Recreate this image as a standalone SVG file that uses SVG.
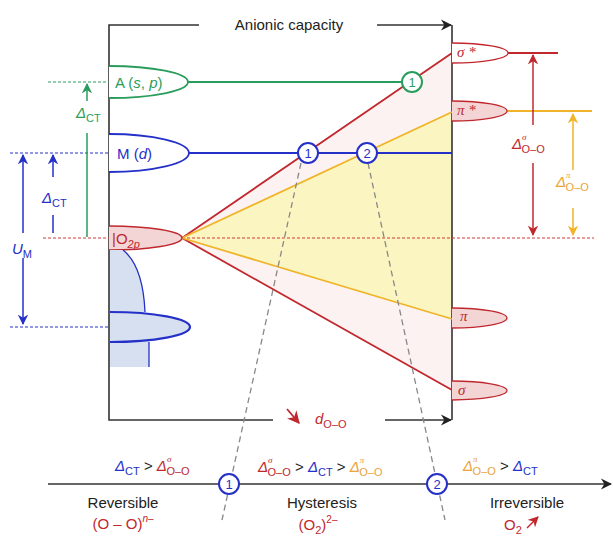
<svg xmlns="http://www.w3.org/2000/svg" width="613" height="540" viewBox="0 0 613 540">
<defs>
<style>
text{font-family:"Liberation Sans",Arial,sans-serif;font-size:15px}
.it{font-style:italic}
.sv{font-family:"Liberation Serif","Times New Roman",serif;font-style:italic}
.k{fill:#222}
.r{fill:#c0282e}
.b{fill:#2530c8}
.g{fill:#2a9d5c}
.o{fill:#eba33a}
.sub{font-size:11px}
.num{font-size:13px;text-anchor:middle}
.ax{stroke:#333;stroke-width:1.6;fill:none}
.dr{stroke:#d03a3a;stroke-width:1;stroke-dasharray:3,2;fill:none}
.db{stroke:#2530c8;stroke-width:1;stroke-dasharray:3,2;fill:none}
.dg{stroke:#2a9d5c;stroke-width:1;stroke-dasharray:3,2;fill:none}
.gray{stroke:#888;stroke-width:1.3;stroke-dasharray:6,4;fill:none}
</style>
<marker id="ak" viewBox="0 0 10 10" refX="9" refY="5" markerWidth="7" markerHeight="7" orient="auto"><path d="M0,0 L10,5 L0,10 L3,5 Z" fill="#222"/></marker>
<marker id="ar" viewBox="0 0 10 10" refX="9" refY="5" markerWidth="7" markerHeight="7" orient="auto"><path d="M0,0 L10,5 L0,10 L3,5 Z" fill="#c0282e"/></marker>
<marker id="ab" viewBox="0 0 10 10" refX="9" refY="5" markerWidth="7" markerHeight="7" orient="auto"><path d="M0,0 L10,5 L0,10 L3,5 Z" fill="#2530c8"/></marker>
<marker id="ag" viewBox="0 0 10 10" refX="9" refY="5" markerWidth="7" markerHeight="7" orient="auto"><path d="M0,0 L10,5 L0,10 L3,5 Z" fill="#2a9d5c"/></marker>
<marker id="ao" viewBox="0 0 10 10" refX="9" refY="5" markerWidth="7" markerHeight="7" orient="auto"><path d="M0,0 L10,5 L0,10 L3,5 Z" fill="#f0b429"/></marker>
</defs>
<rect width="613" height="540" fill="#fff"/>

<!-- fan fills -->
<g id="fan">
<polygon points="182,238 452,53 452,390" fill="#fcf2f2"/>
<polygon points="182,238 452,112 452,319" fill="#fbf5c2"/>
</g>

<!-- frame -->
<g id="frame">
<path class="ax" d="M199,25 L109,25 L109,420 L273,420"/>
<line class="ax" x1="377" y1="25" x2="451" y2="25" marker-end="url(#ak)"/>
<line class="ax" x1="385" y1="420" x2="451" y2="420" marker-end="url(#ak)"/>
<line class="ax" x1="452" y1="25" x2="452" y2="420"/>
<text x="289" y="30" text-anchor="middle" class="k">Anionic capacity</text>
<line x1="287" y1="409" x2="299" y2="423" stroke="#c0282e" stroke-width="1.8" marker-end="url(#ar)"/>
<text x="315" y="424" class="r"><tspan class="it">d</tspan><tspan dy="4" class="sub">O–O</tspan></text>
</g>

<g id="connectors">
<!-- dashed level lines -->
<line class="dg" x1="48" y1="82" x2="109" y2="82"/>
<line class="db" x1="10" y1="153" x2="109" y2="153"/>
<line class="dr" x1="43" y1="238" x2="109" y2="238"/>
<line class="dr" x1="182" y1="238" x2="594" y2="238"/>
<line class="db" x1="10" y1="327" x2="109" y2="327"/>
<!-- fan lines -->
<line x1="182" y1="238" x2="452" y2="53" stroke="#c0282e" stroke-width="1.8"/>
<line x1="182" y1="238" x2="452" y2="390" stroke="#c0282e" stroke-width="1.8"/>
<line x1="182" y1="238" x2="452" y2="112" stroke="#f0b429" stroke-width="1.8"/>
<line x1="182" y1="238" x2="452" y2="319" stroke="#f0b429" stroke-width="1.8"/>
<!-- horizontal levels -->
<line x1="188" y1="82" x2="402" y2="82" stroke="#2a9d5c" stroke-width="1.8"/>
<line x1="189" y1="153" x2="452" y2="153" stroke="#2530c8" stroke-width="1.8"/>
<line x1="508" y1="53" x2="558" y2="53" stroke="#c0282e" stroke-width="1.8"/>
<line x1="507" y1="111" x2="592" y2="111" stroke="#f0b429" stroke-width="1.8"/>
<!-- gray dashed transitions -->
<line class="gray" x1="301" y1="163" x2="222" y2="520"/>
<line class="gray" x1="368" y1="163" x2="445" y2="520"/>
<!-- left arrows -->
<line x1="87" y1="101" x2="87" y2="84" stroke="#2a9d5c" stroke-width="1.5" marker-end="url(#ag)"/>
<line x1="87" y1="133" x2="87" y2="237" stroke="#2a9d5c" stroke-width="1.5"/>
<line x1="53" y1="177" x2="53" y2="155" stroke="#2530c8" stroke-width="1.5" marker-end="url(#ab)"/>
<line x1="53" y1="215" x2="53" y2="233" stroke="#2530c8" stroke-width="1.5"/>
<line x1="23" y1="233" x2="23" y2="155" stroke="#2530c8" stroke-width="1.5" marker-end="url(#ab)"/>
<line x1="23" y1="258" x2="23" y2="324" stroke="#2530c8" stroke-width="1.5" marker-end="url(#ab)"/>
<!-- right arrows -->
<line x1="533" y1="125" x2="533" y2="55" stroke="#c0282e" stroke-width="1.5" marker-end="url(#ar)"/>
<line x1="533" y1="163" x2="533" y2="235" stroke="#c0282e" stroke-width="1.5" marker-end="url(#ar)"/>
<line x1="573" y1="170" x2="573" y2="114" stroke="#f0b429" stroke-width="1.5" marker-end="url(#ao)"/>
<line x1="573" y1="208" x2="573" y2="235" stroke="#f0b429" stroke-width="1.5" marker-end="url(#ao)"/>
<!-- bottom axis -->
<line x1="48" y1="484" x2="611" y2="484" stroke="#333" stroke-width="1.6" marker-end="url(#ak)"/>
</g>

<!-- left DOS -->
<g id="A-sp">
<path d="M109,66 A79,16 0 0 1 109,98" fill="#fff" stroke="#2a9d5c" stroke-width="1.8"/>
<text x="115" y="88" class="g" font-size="16">A (<tspan class="it">s</tspan>, <tspan class="it">p</tspan>)</text>
</g>
<g id="M-d">
<path d="M109,134 A80,19 0 0 1 109,172" fill="#fff" stroke="#2530c8" stroke-width="1.8"/>
<text x="117" y="159" class="b" font-size="16">M (<tspan class="it">d</tspan>)</text>
</g>
<g id="O2p">
<path d="M109,226 A73,12 0 0 1 109,250" fill="#f3d5d5" stroke="#c0282e" stroke-width="1.5"/>
<text x="112" y="244" class="r" font-size="16">|O<tspan dy="4" class="sub it">2p</tspan></text>
</g>
<g id="M-band">
<path d="M110,250 L123,250 Q143,266 145,312 L149,342 L149,367 L110,367 Z" fill="#d6e0f0"/>
<path d="M123,250 Q143,266 145,312" fill="none" stroke="#2530c8" stroke-width="1.3"/>
<path d="M149,342 L149,367" fill="none" stroke="#2530c8" stroke-width="1.3"/>
<path d="M110,312 A80,15 0 0 1 110,342" fill="#d6e0f0" stroke="#2530c8" stroke-width="2.2"/>
</g>

<!-- right DOS -->
<g id="sigma-star">
<path d="M452,43 A56,10 0 0 1 452,63" fill="#fff" stroke="#c0282e" stroke-width="1.3"/>
<text x="457" y="57" class="r sv" font-size="13">σ *</text>
</g>
<g id="pi-star">
<path d="M452,101 A55,10 0 0 1 452,121" fill="#f3d5d5" stroke="#c0282e" stroke-width="1.3"/>
<text x="457" y="115" class="r sv" font-size="13">π *</text>
</g>
<g id="pi">
<path d="M452,308 A55,10 0 0 1 452,328" fill="#f3d5d5" stroke="#c0282e" stroke-width="1.3"/>
<text x="460" y="321" class="r sv" font-size="13">π</text>
</g>
<g id="sigma">
<path d="M452,381 A55,9.5 0 0 1 452,400" fill="#f3d5d5" stroke="#c0282e" stroke-width="1.3"/>
<text x="458" y="395" class="r sv" font-size="13">σ</text>
</g>

<!-- crossing points -->
<g id="c-green-1">
<circle cx="412" cy="82" r="10" fill="#fff" stroke="#2a9d5c" stroke-width="2"/>
<text x="412" y="87" class="num g">1</text>
</g>
<g id="c-blue-1">
<circle cx="308" cy="153" r="10" fill="#fff" stroke="#2530c8" stroke-width="2"/>
<text x="308" y="158" class="num b">1</text>
</g>
<g id="c-blue-2">
<circle cx="367" cy="153" r="10" fill="#fff" stroke="#2530c8" stroke-width="2"/>
<text x="367" y="158" class="num b">2</text>
</g>
<g id="c-axis-1">
<circle cx="229" cy="484" r="10" fill="#fff" stroke="#2530c8" stroke-width="2"/>
<text x="229" y="489" class="num b">1</text>
</g>
<g id="c-axis-2">
<circle cx="437" cy="484" r="10" fill="#fff" stroke="#2530c8" stroke-width="2"/>
<text x="437" y="489" class="num b">2</text>
</g>

<!-- arrow labels -->
<g id="labels">
<text x="76" y="118" class="g"><tspan class="it">Δ</tspan><tspan dy="4" class="sub">CT</tspan></text>
<text x="42" y="203" class="b"><tspan class="it">Δ</tspan><tspan dy="4" class="sub">CT</tspan></text>
<text x="12" y="254" class="b" font-size="18"><tspan class="it">U</tspan><tspan dy="4" class="sub">M</tspan></text>
<text x="512" y="149" class="r"><tspan class="it">Δ</tspan><tspan dy="-9" font-size="9" class="sv">σ</tspan><tspan dx="-5" dy="13" class="sub">O–O</tspan></text>
<text x="556" y="187" class="o"><tspan class="it">Δ</tspan><tspan dy="-9" font-size="9" class="sv">π</tspan><tspan dx="-5" dy="13" class="sub">O–O</tspan></text>
</g>

<!-- regimes -->
<g id="reversible">
<text x="115" y="471"><tspan class="it b">Δ</tspan><tspan dy="4" class="sub b">CT</tspan><tspan dy="-4" class="k"> &gt; </tspan><tspan class="it r">Δ</tspan><tspan dy="-9" font-size="9" class="sv r">σ</tspan><tspan dx="-5" dy="13" class="sub r">O–O</tspan></text>
<text x="123" y="508" text-anchor="middle" class="k">Reversible</text>
<text x="123" y="529" text-anchor="middle" class="r">(O – O)<tspan dy="-7" font-size="10" class="it">n–</tspan></text>
</g>
<g id="hysteresis">
<text x="258" y="472"><tspan class="it r">Δ</tspan><tspan dy="-9" font-size="9" class="sv r">σ</tspan><tspan dx="-5" dy="13" class="sub r">O–O</tspan><tspan dy="-4" class="k"> &gt; </tspan><tspan class="it b">Δ</tspan><tspan dy="4" class="sub b">CT</tspan><tspan dy="-4" class="k"> &gt; </tspan><tspan class="it o">Δ</tspan><tspan dy="-9" font-size="9" class="sv o">π</tspan><tspan dx="-5" dy="13" class="sub o">O–O</tspan></text>
<text x="322" y="508" text-anchor="middle" class="k">Hysteresis</text>
<text x="318" y="530" text-anchor="middle" class="r">(O<tspan dy="4" class="sub">2</tspan><tspan dy="-4">)</tspan><tspan dy="-7" font-size="10">2–</tspan></text>
</g>
<g id="irreversible">
<text x="463" y="471"><tspan class="it o">Δ</tspan><tspan dy="-9" font-size="9" class="sv o">π</tspan><tspan dx="-5" dy="13" class="sub o">O–O</tspan><tspan dy="-4" class="k"> &gt; </tspan><tspan class="it b">Δ</tspan><tspan dy="4" class="sub b">CT</tspan></text>
<text x="527" y="508" text-anchor="middle" class="k">Irreversible</text>
<text x="504" y="530" class="r">O<tspan dy="4" class="sub">2</tspan></text>
<line x1="527" y1="528" x2="538" y2="517" stroke="#c0282e" stroke-width="1.5" marker-end="url(#ar)"/>
</g>
</svg>
